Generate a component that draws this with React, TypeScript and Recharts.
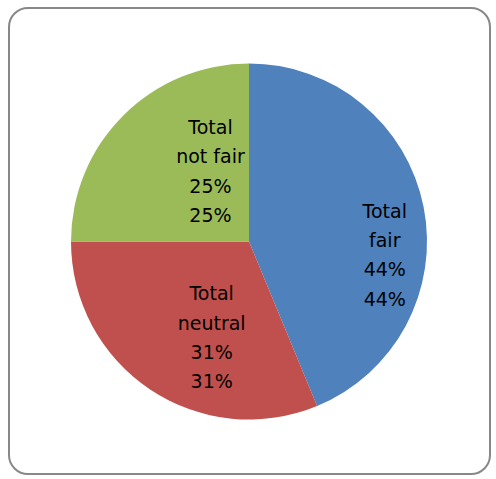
import { Cell, Pie, PieChart } from "recharts";

const categories = ["Total fair", "Total neutral", "Total not fair"];
const responses = [35, 25, 20];
const colors = ["#4F81BD", "#C0504D", "#9BBB59"];

const data = categories.map((name, i) => ({ name, value: responses[i] }));

// label placement tweaks, Excel "best fit" isn't exactly on the mid angle
const labelNudge = [
  [31, 34],
  [22, 7],
  [37, 5],
];

const RADIAN = Math.PI / 180;

function SliceLabel(props: any) {
  const { cx, cy, midAngle, outerRadius, percent, index, name } = props;
  const r = outerRadius * 0.6;
  const x = cx + r * Math.cos(-midAngle * RADIAN) + labelNudge[index][0];
  const y = cy + r * Math.sin(-midAngle * RADIAN) + labelNudge[index][1];
  const split = name.indexOf(" ");
  const pct = `${Math.round(percent * 100)}%`;
  const lines = [name.slice(0, split), name.slice(split + 1), pct, pct];
  return (
    <text
      x={x}
      y={y}
      textAnchor="middle"
      fill="#000"
      fontFamily="DejaVu Sans"
      fontSize={19}
    >
      {lines.map((line, i) => (
        <tspan key={i} x={x} y={y + (i - 1.5) * 29.3} dominantBaseline="central">
          {line}
        </tspan>
      ))}
    </text>
  );
}

export default function App() {
  return (
    <div style={{ position: "absolute", left: 0, top: 0, width: 496, height: 479, background: "#fff" }}>
      <div
        style={{
          position: "absolute",
          left: 8,
          top: 7,
          width: 479,
          height: 464,
          border: "2px solid #888",
          borderRadius: 20,
        }}
      />
      <div style={{ position: "absolute", left: 0, top: 0 }}>
        <PieChart width={496} height={479} margin={{ top: 0, right: 0, bottom: 0, left: 0 }}>
          <Pie
            data={data}
            dataKey="value"
            nameKey="name"
            cx={249}
            cy={241.5}
            outerRadius={178}
            startAngle={90}
            endAngle={-270}
            stroke="none"
            labelLine={false}
            label={SliceLabel}
            isAnimationActive={false}
          >
            {data.map((d, i) => (
              <Cell key={d.name} fill={colors[i]} />
            ))}
          </Pie>
        </PieChart>
      </div>
    </div>
  );
}
